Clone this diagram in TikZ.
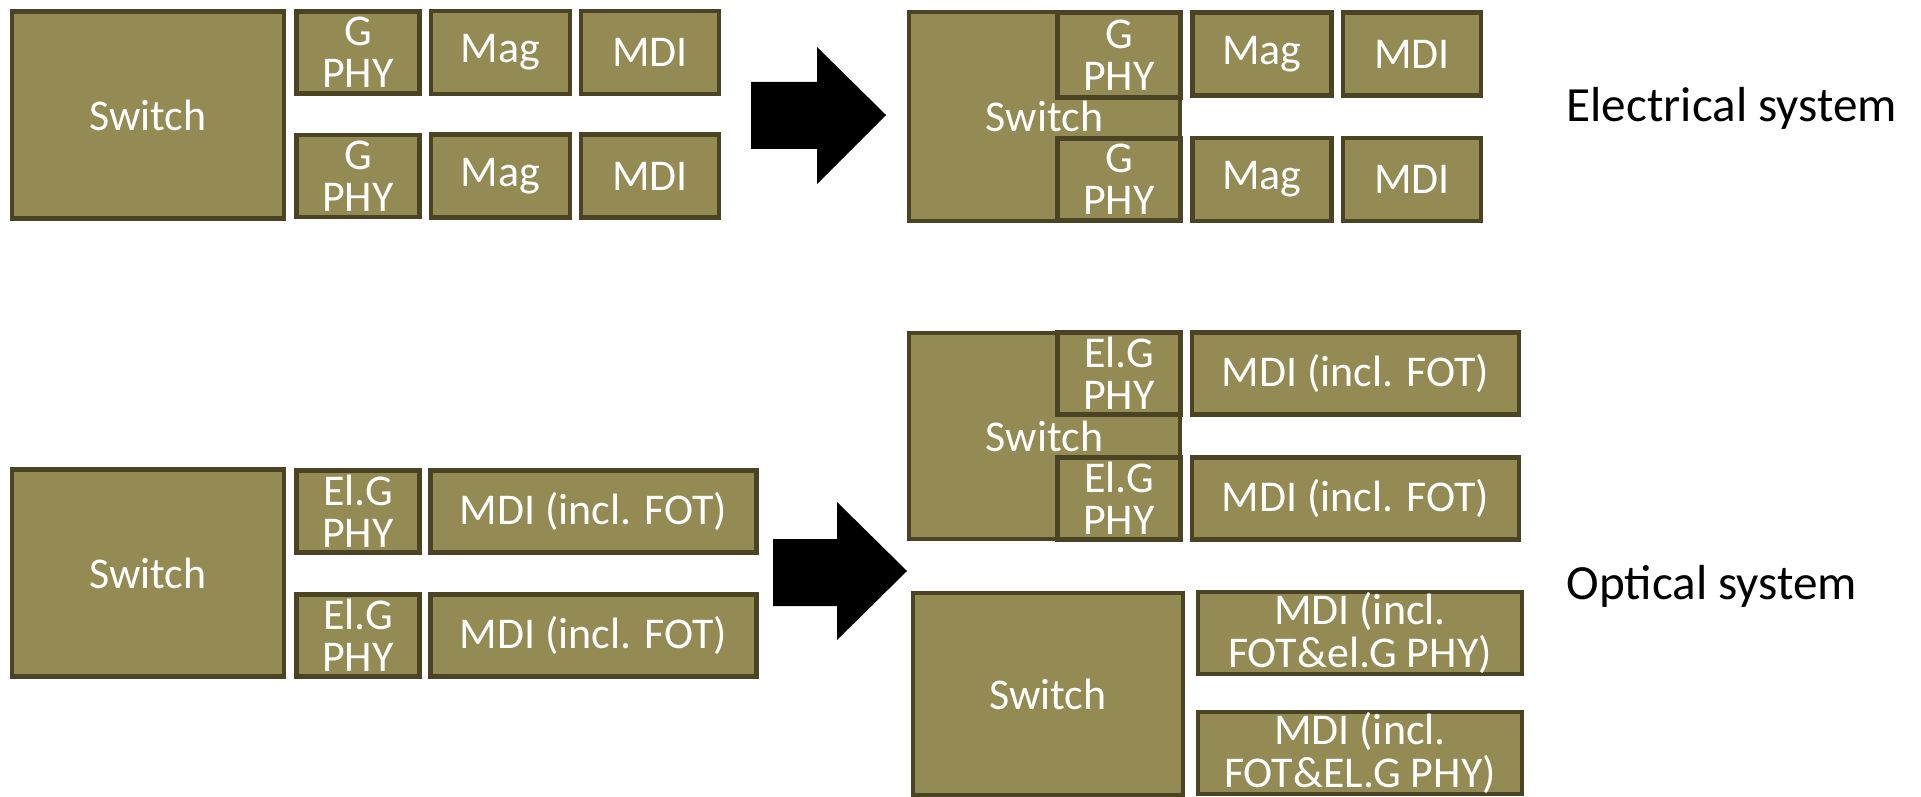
\documentclass[tikz,border=0pt]{standalone}
\usepackage{fontspec}
\setmainfont{Carlito}
\definecolor{boxfill}{HTML}{948A54}
\definecolor{boxline}{HTML}{4A4425}
\begin{document}
\begin{tikzpicture}[
        thick,
        font=\fontsize{25}{24}\selectfont
    ]
    \tikzset{
        mybox/.style = {rectangle, draw=boxline, line width=2.4pt, fill=boxfill,
                        text=white, align=center, inner sep=0pt},
        swbox/.style = {mybox, minimum width=5.43cm, minimum height=4.14cm},
        phybox/.style = {mybox, minimum width=2.46cm, minimum height=1.64cm},
        magbox/.style = {mybox, minimum width=2.78cm, minimum height=1.66cm},
        mdibox/.style = {mybox, minimum width=2.76cm, minimum height=1.66cm},
        fotbox/.style = {mybox, minimum width=6.52cm, minimum height=1.64cm},
        sysl/.style = {anchor=west, font=\fontsize{28}{28}\selectfont},
        bigarrow/.style = {fill=black},
    }
    \useasboundingbox (0,0) rectangle (38.42,-15.94);
        % electrical, before
        \node[swbox] at (2.96,-2.30) (sw1) {Switch};
        \node[phybox] at (7.16,-1.05) (gp1a) {G\\PHY};
        \node[phybox] at (7.16,-3.52) (gp1b) {G\\PHY};
        \node[magbox] at (10.01,-1.05) (mag1a) {Mag};
        \node[magbox] at (10.01,-3.52) (mag1b) {Mag};
        \node[mdibox] at (13.00,-1.05) (mdi1a) {MDI};
        \node[mdibox] at (13.00,-3.52) (mdi1b) {MDI};
        %
        \fill[bigarrow] (15.02,-1.64) -- (16.34,-1.64) -- (16.34,-0.94) -- (17.72,-2.30)
            -- (16.34,-3.68) -- (16.34,-2.98) -- (15.02,-2.98) -- cycle;
        %
        % electrical, after
        \node[swbox, minimum height=4.18cm] at (20.89,-2.33) (sw2) {Switch};
        \node[phybox, minimum height=1.70cm] at (22.38,-1.10) (gp2a) {G\\PHY};
        \node[phybox] at (22.38,-3.59) (gp2b) {G\\PHY};
        \node[magbox] at (25.24,-1.08) (mag2a) {Mag};
        \node[magbox] at (25.24,-3.59) (mag2b) {Mag};
        \node[mdibox] at (28.24,-1.08) (mdi2a) {MDI};
        \node[mdibox] at (28.24,-3.59) (mdi2b) {MDI};
        \node[sysl] at (31.20,-2.16) (elsys) {Electrical system};
        %
        % optical, before
        \node[swbox] at (2.96,-11.46) (sw3) {Switch};
        \node[phybox] at (7.16,-10.23) (ep3a) {El.G\\PHY};
        \node[phybox] at (7.16,-12.71) (ep3b) {El.G\\PHY};
        \node[fotbox] at (11.87,-10.23) (fot3a) {MDI (incl. FOT)};
        \node[fotbox] at (11.87,-12.71) (fot3b) {MDI (incl. FOT)};
        %
        \fill[bigarrow] (15.46,-10.78) -- (16.74,-10.78) -- (16.74,-10.04) -- (18.14,-11.42)
            -- (16.74,-12.80) -- (16.74,-12.12) -- (15.46,-12.12) -- cycle;
        %
        % optical, after
        \node[swbox, minimum height=4.12cm] at (20.89,-8.72) (sw4) {Switch};
        \node[phybox] at (22.38,-7.47) (ep4a) {El.G\\PHY};
        \node[phybox] at (22.38,-9.97) (ep4b) {El.G\\PHY};
        \node[fotbox, minimum width=6.54cm] at (27.11,-7.47) (fot4a) {MDI (incl. FOT)};
        \node[fotbox, minimum width=6.54cm] at (27.11,-9.97) (fot4b) {MDI (incl. FOT)};
        %
        \node[swbox, minimum width=5.40cm, minimum height=4.04cm] at (20.96,-13.88) (sw5) {Switch};
        \node[fotbox, minimum width=6.48cm] at (27.20,-12.66) (fot5a) {MDI (incl.\\FOT\&el.G PHY)};
        \node[fotbox, minimum width=6.48cm] at (27.20,-15.06) (fot5b) {MDI (incl.\\FOT\&EL.G PHY)};
        \node[sysl] at (31.20,-11.72) (opsys) {Optical system};
\end{tikzpicture}
\end{document}
